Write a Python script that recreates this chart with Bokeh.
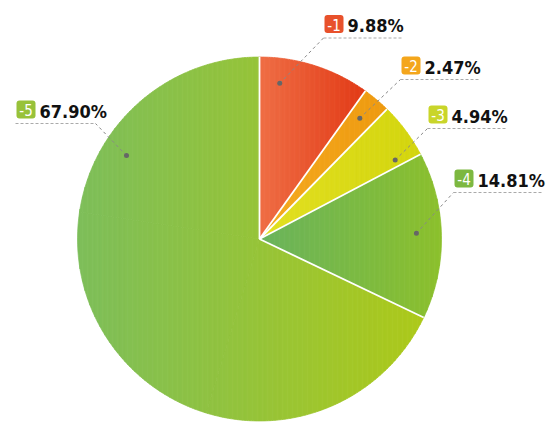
import math
from bokeh.plotting import figure
from bokeh.models import Range1d
from bokeh.core.properties import value
from bokeh.embed import file_html
from bokeh.resources import INLINE

# ---- data ----
categories = ["-1", "-2", "-3", "-4", "-5"]
percents = [9.88, 2.47, 4.94, 14.81, 67.90]
labels = ["9.88%", "2.47%", "4.94%", "14.81%", "67.90%"]
grad_left = ["#EF6E45", "#F5AB20", "#E3E022", "#69B35D", "#7DBE5A"]
grad_right = ["#E23A16", "#EE9A10", "#D3D50E", "#8CC02C", "#ADC91A"]
box_colors = ["#E8512B", "#F4A61C", "#C9D52A", "#7DB840", "#98C23A"]

# ---- layout (page pixel coords) ----
W, H = 550, 429
def px(x):
    return x
def py(y):
    return H - y

CX, CY, R = px(259), py(238.5), 182
DOT_R = 157
dot_angles_deg = [82.6, 50.3, 30.2, 2.1, 147.9]
under = [(323, 37.5), (400, 79), (427, 128), (453, 192), (15, 123)]
under_len = [80, 78, 80, 90, 80]
FONT = "DejaVu Sans Condensed"

p = figure(width=W, height=H, x_range=Range1d(0, W), y_range=Range1d(0, H),
           output_backend="svg", toolbar_location=None, min_border=0)
p.axis.visible = False
p.grid.visible = False
p.outline_line_color = None
p.background_fill_color = "white"
p.border_fill_color = "white"


def hex2rgb(h):
    return tuple(int(h[i:i + 2], 16) for i in (1, 3, 5))


def lerp(c0, c1, t):
    a, b = hex2rgb(c0), hex2rgb(c1)
    return "#%02x%02x%02x" % tuple(int(round(a[k] + (b[k] - a[k]) * t)) for k in range(3))


def clip(poly, x0, x1):
    def clip_edge(pts, keep, inter):
        out = []
        n = len(pts)
        for i in range(n):
            cur, prev = pts[i], pts[i - 1]
            if keep(cur):
                if not keep(prev):
                    out.append(inter(prev, cur))
                out.append(cur)
            elif keep(prev):
                out.append(inter(prev, cur))
        return out

    def ix(xc):
        def f(a, b):
            t = (xc - a[0]) / (b[0] - a[0])
            return (xc, a[1] + t * (b[1] - a[1]))
        return f
    pts = clip_edge(poly, lambda q: q[0] >= x0, ix(x0))
    if not pts:
        return []
    pts = clip_edge(pts, lambda q: q[0] <= x1, ix(x1))
    return pts


total = sum(percents)
bounds = [math.pi / 2]
cum = 0.0
for v in percents:
    cum += v
    bounds.append(math.pi / 2 - 2 * math.pi * cum / total)

xs_all, ys_all, cols = [], [], []
STRIP = 2.5
for i in range(len(percents)):
    a0, a1 = bounds[i], bounds[i + 1]
    span = a0 - a1
    npieces = int(math.ceil(span / (math.pi / 2)))
    pieces = []
    for k in range(npieces):
        s = a0 - span * k / npieces
        e = a0 - span * (k + 1) / npieces
        pts = [(CX, CY)]
        m = 40
        for j in range(m + 1):
            a = s + (e - s) * j / m
            pts.append((CX + R * math.cos(a), CY + R * math.sin(a)))
        pieces.append(pts)
    allx = [q[0] for pc in pieces for q in pc]
    xmin, xmax = min(allx), max(allx)
    x = xmin
    while x < xmax:
        x1 = min(x + STRIP, xmax)
        t = ((x + x1) / 2 - xmin) / (xmax - xmin)
        c = lerp(grad_left[i], grad_right[i], t)
        for pc in pieces:
            cp = clip(pc, x, x1)
            if len(cp) >= 3:
                xs_all.append([q[0] for q in cp])
                ys_all.append([q[1] for q in cp])
                cols.append(c)
        x = x1

p.patches(xs_all, ys_all, fill_color=cols, line_color=cols, line_width=0.7)

# white separators
sx1 = [CX + R * math.cos(b) for b in bounds[:-1]]
sy1 = [CY + R * math.sin(b) for b in bounds[:-1]]
p.segment(x0=[CX] * len(sx1), y0=[CY] * len(sx1), x1=sx1, y1=sy1,
          line_color="white", line_width=1.8)

# leader lines and dots
dx, dy = [], []
for i, ang in enumerate(dot_angles_deg):
    a = math.radians(ang)
    x = CX + DOT_R * math.cos(a)
    y = CY + DOT_R * math.sin(a)
    dx.append(x)
    dy.append(y)
    ux, uy = under[i]
    ex = px(ux + under_len[i]) if i == 4 else px(ux)
    p.line([x, ex], [y, py(uy)], line_color="#888888", line_width=1,
           line_dash="3 3")
    p.line([px(ux), px(ux + under_len[i])], [py(uy), py(uy)],
           line_color="#aaaaaa", line_width=1, line_dash="3 2")
p.scatter(dx, dy, size=5, fill_color="#666666", line_color=None)

# label boxes and text
bl, br, bt, bb, tx, ty, cx, cy = [], [], [], [], [], [], [], []
for i in range(5):
    ux, uy = under[i]
    left = ux + 1
    top = uy - 23
    bl.append(px(left)); br.append(px(left + 19))
    bt.append(py(top)); bb.append(py(top + 18))
    cx.append(px(left + 9.5)); cy.append(py(top + 9.5))
    tx.append(px(left + 23)); ty.append(py(top + 10.5))

p.quad(left=bl, right=br, top=bt, bottom=bb, fill_color=box_colors,
       line_color=None, border_radius=3)
p.text(x=cx, y=cy, text=categories, text_color="white",
       text_font=value(FONT), text_font_size="15px",
       text_align="center", text_baseline="middle")
p.text(x=tx, y=ty, text=labels, text_color="#111111",
       text_font=value(FONT), text_font_style="bold",
       text_font_size="18px", text_align="left", text_baseline="middle")

open("out.html", "w").write(file_html(p, INLINE))
